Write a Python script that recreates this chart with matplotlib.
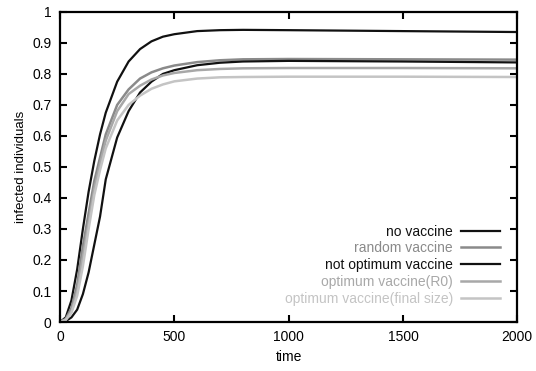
import numpy as np
import matplotlib
matplotlib.use("Agg")
import matplotlib.pyplot as plt
from matplotlib.ticker import FormatStrFormatter

plt.rcParams['font.family'] = ['Liberation Sans', 'DejaVu Sans']

# time points
time = [0, 25, 50, 75, 100, 125, 150, 175, 200, 250, 300, 350, 400, 450,
        500, 600, 700, 800, 1000, 1500, 2000]

no_vaccine = [0.0, 0.015, 0.07, 0.17, 0.30, 0.42, 0.52, 0.605, 0.675, 0.775, 0.84,
              0.88, 0.905, 0.92, 0.928, 0.938, 0.941, 0.942, 0.941, 0.938, 0.935]
random_vaccine = [0.0, 0.01, 0.045, 0.12, 0.245, 0.35, 0.455, 0.53, 0.605, 0.70, 0.75,
                  0.785, 0.805, 0.818, 0.827, 0.838, 0.844, 0.847, 0.848, 0.847, 0.846]
not_optimum = [0.0, 0.003, 0.015, 0.04, 0.09, 0.16, 0.25, 0.34, 0.46, 0.595, 0.68,
               0.74, 0.775, 0.80, 0.812, 0.828, 0.836, 0.84, 0.842, 0.84, 0.837]
optimum_r0 = [0.0, 0.008, 0.035, 0.10, 0.21, 0.32, 0.43, 0.51, 0.585, 0.68, 0.735,
              0.762, 0.782, 0.795, 0.803, 0.812, 0.816, 0.818, 0.819, 0.819, 0.818]
optimum_final = [0.0, 0.006, 0.03, 0.085, 0.18, 0.30, 0.41, 0.49, 0.56, 0.65, 0.70,
                 0.73, 0.752, 0.766, 0.776, 0.785, 0.789, 0.79, 0.791, 0.791, 0.79]

series = [
    ("no vaccine", no_vaccine, "#111111", 1.6),
    ("random vaccine", random_vaccine, "#8a8a8a", 1.8),
    ("not optimum vaccine", not_optimum, "#111111", 1.6),
    ("optimum vaccine(R0)", optimum_r0, "#a8a8a8", 1.8),
    ("optimum vaccine(final size)", optimum_final, "#c4c4c4", 1.8),
]

fig = plt.figure(figsize=(5.36, 3.71), dpi=100)
ax = fig.add_axes([0.112, 0.132, 0.853, 0.836])

for name, vals, col, lw in series:
    ax.plot(time, vals, color=col, lw=lw, label=name)

ax.set_xlim(0, 2000)
ax.set_ylim(0, 1)
ax.set_xticks([0, 500, 1000, 1500, 2000])
ax.set_yticks(np.arange(0, 1.01, 0.1))
ax.yaxis.set_major_formatter(FormatStrFormatter('%g'))
ax.tick_params(direction='in', top=True, right=True, length=5, width=1.5,
               labelsize=10, pad=6)
for s in ax.spines.values():
    s.set_linewidth(1.6)

ax.set_xlabel("time", fontsize=10, labelpad=4)
ax.set_ylabel("infected individuals", fontsize=9.5, labelpad=4)

leg = ax.legend(loc='lower right', bbox_to_anchor=(0.975, 0.035), frameon=False,
                markerfirst=False, fontsize=10, handlelength=2.8,
                handletextpad=0.6, labelspacing=0.2, labelcolor='linecolor',
                borderaxespad=0)

fig.savefig("out.png", dpi=100)
